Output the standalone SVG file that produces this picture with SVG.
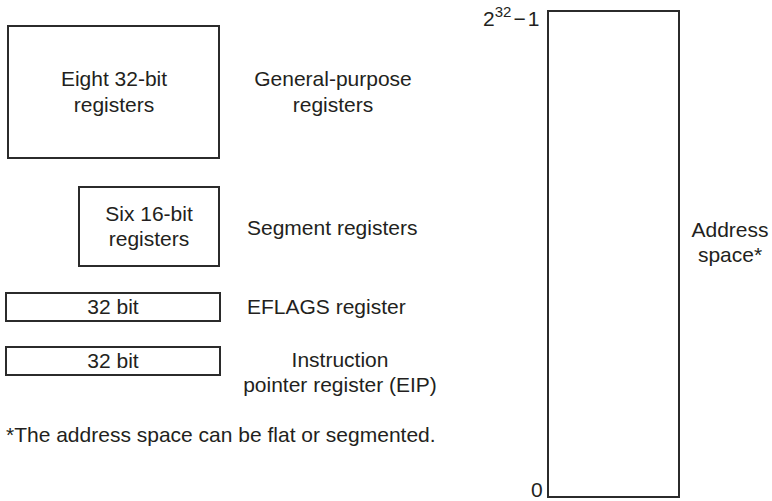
<svg xmlns="http://www.w3.org/2000/svg" width="772" height="501" viewBox="0 0 772 501">
<style>
.box{fill:#fff;stroke:#2b2b2b;stroke-width:2}
text{font-family:"Liberation Sans",Arial,sans-serif;font-size:21px;fill:#231f20}
.c{text-anchor:middle}
.sup{font-size:15px}
</style>
<rect width="772" height="501" fill="#fff"/>
<g id="gp">
<rect class="box" x="8" y="26" width="211" height="132"/>
<text class="c" x="114" y="86">Eight 32-bit</text>
<text class="c" x="114" y="112">registers</text>
<text class="c" x="333" y="86">General-purpose</text>
<text class="c" x="333" y="112">registers</text>
</g>
<g id="seg">
<rect class="box" x="79" y="187" width="140" height="79"/>
<text class="c" x="149" y="221">Six 16-bit</text>
<text class="c" x="149" y="246">registers</text>
<text x="247" y="235">Segment registers</text>
</g>
<g id="eflags">
<rect class="box" x="6" y="293" width="214" height="28"/>
<text class="c" x="113" y="314">32 bit</text>
<text x="247" y="314">EFLAGS register</text>
</g>
<g id="eip">
<rect class="box" x="6" y="347" width="214" height="28"/>
<text class="c" x="113" y="368">32 bit</text>
<text class="c" x="340" y="367">Instruction</text>
<text class="c" x="340" y="392">pointer register (EIP)</text>
</g>
<g id="note">
<text x="6" y="442">*The address space can be flat or segmented.</text>
</g>
<g id="addr">
<rect class="box" x="548" y="11" width="131" height="486"/>
<text x="483" y="26">2<tspan class="sup" dy="-9">32</tspan><tspan dy="9" dx="2">−</tspan><tspan dx="2">1</tspan></text>
<text x="531" y="497">0</text>
<text class="c" x="730" y="237">Address</text>
<text class="c" x="730" y="262">space*</text>
</g>
<g id="connectors"></g>
</svg>
